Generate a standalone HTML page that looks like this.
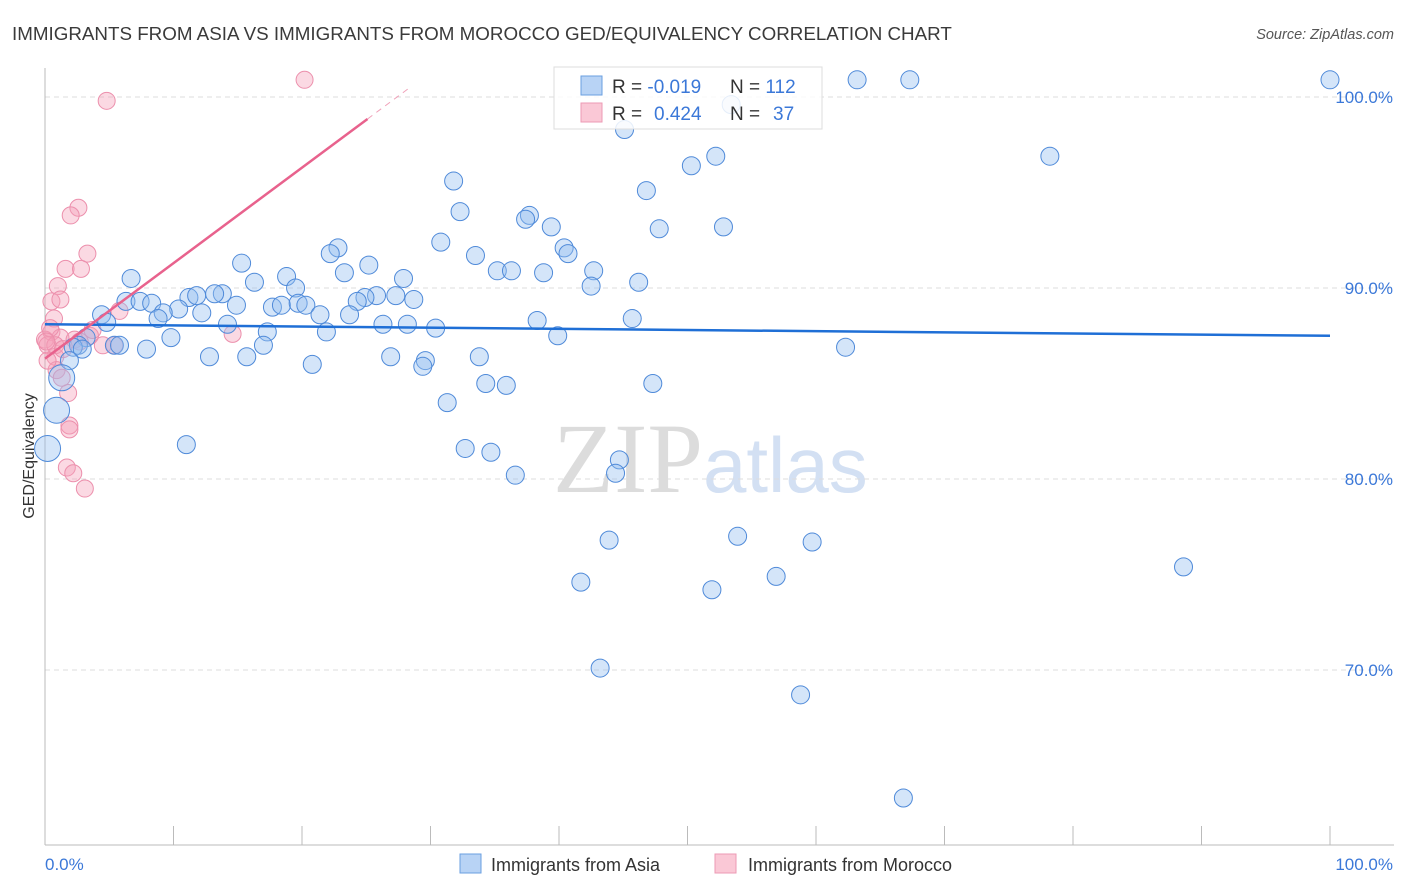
<!DOCTYPE html>
<html><head><meta charset="utf-8"><style>
body{margin:0;background:#fff;font-family:"Liberation Sans",sans-serif;}
svg{display:block}
</style></head><body>
<svg id="chart" width="1406" height="892" xmlns="http://www.w3.org/2000/svg">
<text x="12" y="40" font-size="18.8" fill="#3a3a3a" font-family="Liberation Sans">IMMIGRANTS FROM ASIA VS IMMIGRANTS FROM MOROCCO GED/EQUIVALENCY CORRELATION CHART</text>
<text x="1394" y="39" font-size="14.5" fill="#555" text-anchor="end" font-style="italic">Source: ZipAtlas.com</text>
<text x="553" y="492" font-size="100" fill="#dcdcdc" font-family="Liberation Serif">ZIP<tspan fill="#d3e0f3" font-family="Liberation Sans" font-size="78">atlas</tspan></text>
<text transform="translate(34,456) rotate(-90)" font-size="16" fill="#333" text-anchor="middle">GED/Equivalency</text>
<g id="grid"></g><g id="marks"></g>
<g>
<rect x="554" y="67" width="268" height="62" fill="#fff" fill-opacity="0.85" stroke="#ddd"/>
<rect x="581" y="76" width="21" height="19" fill="#b8d3f5" stroke="#6a9fe0"/>
<rect x="581" y="103" width="21" height="19" fill="#fac8d6" stroke="#ec9ab4"/>
<text x="612" y="93" font-size="19" fill="#333">R = <tspan fill="#3b78d8">-0.019</tspan><tspan x="730">N = </tspan><tspan fill="#3b78d8">112</tspan></text>
<text x="612" y="120" font-size="19" fill="#333">R = <tspan fill="#3b78d8" x="654">0.424</tspan><tspan x="730">N = </tspan><tspan fill="#3b78d8" x="773">37</tspan></text>
</g>
<g>
<rect x="460" y="854" width="21" height="19" fill="#b8d3f5" stroke="#6a9fe0"/>
<text x="491" y="871" font-size="18" fill="#333">Immigrants from Asia</text>
<rect x="715" y="854" width="21" height="19" fill="#fac8d6" stroke="#ec9ab4"/>
<text x="748" y="871" font-size="18" fill="#333">Immigrants from Morocco</text>
</g>
</svg>
<script>
const yTicks=[70,80,90,100];
const yTickLabels=["70.0%","80.0%","90.0%","100.0%"];
const xTickLabels=["0.0%","100.0%"];
const asiaX=[100,63.2,67.3,53.4,45.1,78.2,52.2,50.3,31.8,46.8,32.3,37.7,37.4,39.4,47.8,52.8,30.8,22.8,22.2,40.4,40.7,33.5,15.3,25.2,35.2,36.3,38.8,42.7,6.7,18.8,23.3,16.3,27.9,46.2,42.5,19.5,13.8,13.2,11.2,11.8,25.8,27.3,24.9,24.3,6.3,7.4,8.3,10.4,9.2,14.9,17.7,18.4,19.7,20.3,28.7,8.8,12.2,21.4,23.7,4.4,4.8,38.3,45.7,14.2,17.3,21.9,26.3,28.2,30.4,39.9,9.8,3.2,2.6,2.2,5.4,5.8,7.9,17.0,62.3,2.9,12.8,15.7,26.9,29.6,33.8,20.8,29.4,1.9,34.3,35.9,47.3,1.3,0.9,31.3,11.0,0.2,32.7,34.7,44.7,36.6,44.4,43.9,53.9,59.7,41.7,51.9,56.9,88.6,43.2,58.8,66.8];
const asiaY=[100.9,100.9,100.9,99.6,98.3,96.9,96.9,96.4,95.6,95.1,94.0,93.8,93.6,93.2,93.1,93.2,92.4,92.1,91.8,92.1,91.8,91.7,91.3,91.2,90.9,90.9,90.8,90.9,90.5,90.6,90.8,90.3,90.5,90.3,90.1,90.0,89.7,89.7,89.5,89.6,89.6,89.6,89.5,89.3,89.3,89.3,89.2,88.9,88.7,89.1,89.0,89.1,89.2,89.1,89.4,88.4,88.7,88.6,88.6,88.6,88.2,88.3,88.4,88.1,87.7,87.7,88.1,88.1,87.9,87.5,87.4,87.4,87.0,86.9,87.0,87.0,86.8,87.0,86.9,86.8,86.4,86.4,86.4,86.2,86.4,86.0,85.9,86.2,85.0,84.9,85.0,85.3,83.6,84.0,81.8,81.6,81.6,81.4,81.0,80.2,80.3,76.8,77.0,76.7,74.6,74.2,74.9,75.4,70.1,68.7,63.3];
const morX=[20.2,4.8,2.6,2.0,3.3,1.6,2.8,1.0,0.5,1.2,5.8,0.7,0.5,0.0,1.2,3.5,4.5,5.4,14.6,0.8,0.9,1.3,1.8,1.9,1.9,1.7,2.2,3.1,0.2,2.3,0.4,0.8,0.2,3.7,2.7,1.4,0.1];
const morY=[100.9,99.8,94.2,93.8,91.8,91.0,91.0,90.1,89.3,89.4,88.8,88.4,87.7,87.3,87.4,87.5,87.0,87.0,87.6,86.4,85.7,85.3,84.5,82.8,82.6,80.6,80.3,79.5,87.0,87.3,87.9,87.0,86.2,87.8,87.2,86.8,87.2];
const asiaTrend=[88.1,87.5];
const morTrend=[86.3,0.5];
const NS="http://www.w3.org/2000/svg";
const X0=45,X1=1330,Y100=97,PXPER=19.1;
function sx(v){return X0+(X1-X0)*v/100;}
function sy(v){return Y100+(100-v)*PXPER;}
function mk(tag,attrs,parent){const e=document.createElementNS(NS,tag);for(const k in attrs)e.setAttribute(k,attrs[k]);parent.appendChild(e);return e;}
const grid=document.getElementById('grid'),marks=document.getElementById('marks');
yTicks.forEach((t,i)=>{
 const l=mk('line',{x1:45,x2:1394,y1:sy(t),y2:sy(t),stroke:'#ddd','stroke-dasharray':'5,4'},grid);
 
 
 const tx=mk('text',{x:1393,y:sy(t)+6,'font-size':17,fill:'#3b78d8','text-anchor':'end'},grid);
 tx.textContent=yTickLabels[i];
 
 
});
const ax=mk('line',{x1:45,x2:45,y1:68,y2:845,stroke:'#bbb'},grid);


const bx=mk('line',{x1:45,x2:1394,y1:845,y2:845,stroke:'#bbb'},grid);


for(let k=0;k<=10;k++){
 const t=mk('line',{x1:sx(k*10),x2:sx(k*10),y1:826,y2:845,stroke:'#bbb'},grid);
 
 
}
[[xTickLabels[0],45,'start'],[xTickLabels[1],1393,'end']].forEach(a=>{
 const t=mk('text',{x:a[1],y:870,'font-size':17,fill:'#3b78d8','text-anchor':a[2]},grid);
 t.textContent=a[0];
 
 
});
morX.forEach((x,i)=>{
 const c=mk('circle',{cx:sx(x),cy:sy(morY[i]),r:8.5,fill:'rgba(245,160,185,0.4)',stroke:'#ec8fac','stroke-width':1},marks);
 
 
});
asiaX.forEach((x,i)=>{
 const r=(x<1.5&&asiaY[i]<86)?13:9;
 const c=mk('circle',{cx:sx(x),cy:sy(asiaY[i]),r:r,fill:'rgba(147,190,240,0.4)',stroke:'#4f8ad9','stroke-width':1},marks);
 
 
});
const bt=mk('line',{x1:sx(0),y1:sy(asiaTrend[0]),x2:sx(100),y2:sy(asiaTrend[1]),stroke:'#1f6fd6','stroke-width':2.5},marks);


const f=x=>morTrend[0]+morTrend[1]*x;
const pt=mk('line',{x1:sx(0),y1:sy(f(0)),x2:sx(25.1),y2:sy(f(25.1)),stroke:'#e8628d','stroke-width':2.5},marks);


const pd=mk('line',{x1:sx(25.1),y1:sy(f(25.1)),x2:sx(28.4),y2:sy(f(28.4)),stroke:'#f0a0b8','stroke-width':1,'stroke-dasharray':'6,5'},marks);


</script>
</body></html>
